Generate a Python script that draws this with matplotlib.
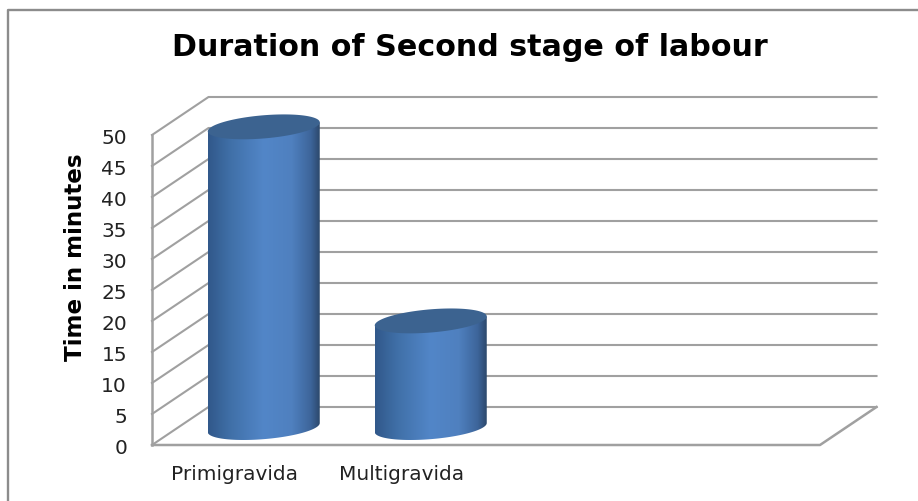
import numpy as np
import matplotlib
matplotlib.use("Agg")
import matplotlib.pyplot as plt
from matplotlib.colors import LinearSegmentedColormap
from matplotlib.patches import Polygon

title = "Duration of Second stage of labour"
ylabel = "Time in minutes"
categories = ["Primigravida", "Multigravida"]
values = [48.5, 17.2]
yticks = np.arange(0, 55, 5)

W, H = 918, 502
# front plane of the 3d box, in pixels
left, right, bottom, top = 152, 820, 446, 136
n_slots = 4
ymax = 50
# depth of the box in data units
dx = 56.5 / 167
dy = 38 / 6.2
grid_col = "#a0a0a0"

fig = plt.figure(figsize=(W / 100, H / 100), dpi=100)
ax = fig.add_axes([left / W, 1 - bottom / H, (right - left) / W, (bottom - top) / H])
ax.axis("off")

# outer chart border
fig.add_artist(plt.Line2D([8 / W, 8 / W, 1], [0, 1 - 11 / H, 1 - 11 / H], color="#8c8c8c", lw=1.7))

# gridlines: side wall then back wall
for v in yticks:
    ax.plot([0, dx, n_slots + dx], [v, v + dy, v + dy], color=grid_col, lw=1.5, clip_on=False, zorder=1)
# floor and value axis
ax.plot([0, 0], [0, ymax], color=grid_col, lw=1.8, clip_on=False, zorder=1)
ax.plot([0, n_slots, n_slots + dx], [0, 0, dy], color=grid_col, lw=1.8, clip_on=False, zorder=1)

cmap = LinearSegmentedColormap.from_list(
    "cyl", [(0, "#31588a"), (0.2, "#4070a8"), (0.5, "#5286c8"), (0.75, "#4f80bf"), (0.92, "#3d659a"), (1, "#2c486c")]
)
a = 56 / 167
slope = 4.5 / 6.2
b = 11.6 / 6.2
t = np.linspace(0, 2 * np.pi, 181)

for i, val in enumerate(values):
    cx = i + 0.5 + dx / 2
    cy0 = dy / 2 - 0.25
    cy1 = cy0 + val
    # side of cylinder: lower half of the base ellipse, upper edge follows the top ellipse
    tb = np.linspace(np.pi, 2 * np.pi, 90)
    xs = cx + a * np.cos(tb)
    ys = cy0 + b * np.sin(tb) + slope * np.cos(tb)
    xs = np.r_[xs, cx + a, cx - a]
    ys = np.r_[ys, cy1 + slope, cy1 - slope]
    poly = Polygon(np.c_[xs, ys], closed=True, transform=ax.transData, fc="none", ec="none")
    ax.add_patch(poly)
    im = ax.imshow(np.linspace(0, 1, 256)[None, :], cmap=cmap, aspect="auto", zorder=3,
                   extent=[cx - a, cx + a, cy0 - 4, cy1 + 4])
    # axes box would cut the cylinder at ymax
    im.set_clip_box(fig.bbox)
    im.set_clip_path(poly)
    ax.fill(cx + a * np.cos(t), cy1 + b * np.sin(t) + slope * np.cos(t), color="#3c6390", lw=0, zorder=4, clip_on=False)

ax.set_xlim(0, n_slots)
ax.set_ylim(0, ymax)

# tick labels and titles
for v in yticks:
    ax.annotate(str(v), (0, v), xytext=(-25 * 0.72, -2.5 * 0.72), textcoords="offset points", ha="right", va="center",
                fontsize=14.5, color="#222222", annotation_clip=False)
for i, c in enumerate(categories):
    ax.annotate(c, (i + 0.5, 0), xytext=(-1 * 0.72, -29 * 0.72), textcoords="offset points", ha="center", va="center",
                fontsize=14.5, color="#222222", annotation_clip=False)
fig.text(470 / W, 1 - 47 / H, title, ha="center", va="center", fontsize=21.7, fontweight="bold", color="black")
fig.text(76 / W, 1 - 257 / H, ylabel, ha="center", va="center", rotation=90, fontsize=16.6, fontweight="bold", color="black")

fig.savefig("out.png", dpi=100)
